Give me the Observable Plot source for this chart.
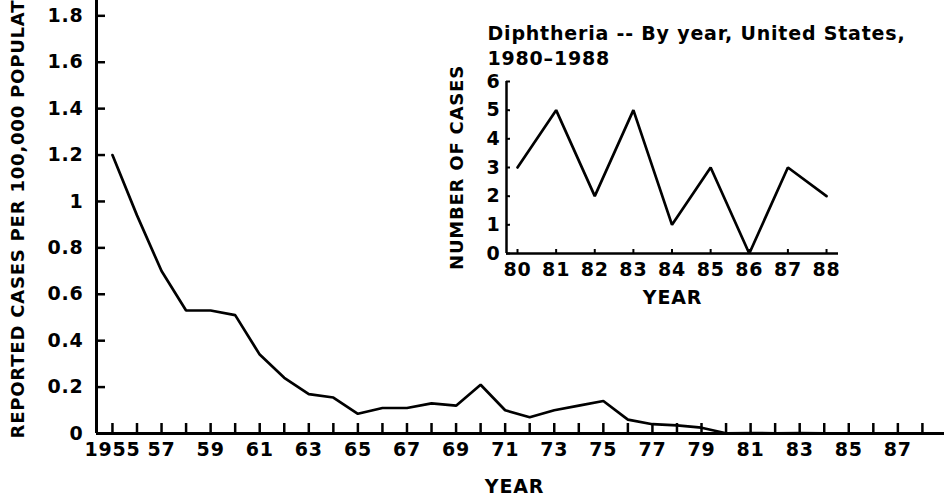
<!DOCTYPE html>
<html><head><meta charset="utf-8">
<script src="https://cdn.jsdelivr.net/npm/d3@7"></script>
<script src="https://cdn.jsdelivr.net/npm/@observablehq/plot@0.6"></script>
<style>
html,body{margin:0;padding:0;background:#fff;}
#wrap{position:relative;width:944px;height:499px;overflow:hidden;}
#inset{position:absolute;left:440px;top:0;}
</style></head><body><div id="wrap"><div id="main"></div><div id="inset"></div></div>
<script>
// Main chart data: reported diphtheria cases per 100,000 population
const years = [1955,1956,1957,1958,1959,1960,1961,1962,1963,1964,1965,1966,1967,1968,1969,1970,1971,1972,1973,1974,1975,1976,1977,1978,1979,1980,1981,1982,1983,1984,1985,1986,1987,1988];
const rates = [1.20,0.94,0.70,0.53,0.53,0.51,0.34,0.24,0.17,0.155,0.085,0.11,0.11,0.13,0.12,0.21,0.10,0.07,0.10,0.12,0.14,0.06,0.04,0.035,0.025,0.001,0.002,0.001,0.002,0.0004,0.001,0,0.001,0.001];
const xTickYears = [1955,1957,1959,1961,1963,1965,1967,1969,1971,1973,1975,1977,1979,1981,1983,1985,1987];
const xTickLabels = ["1955","57","59","61","63","65","67","69","71","73","75","77","79","81","83","85","87"];
const yTicks = [0,0.2,0.4,0.6,0.8,1,1.2,1.4,1.6,1.8];
const yTickLabels = ["0","0.2","0.4","0.6","0.8","1","1.2","1.4","1.6","1.8"];
const yTitle = "REPORTED CASES PER 100,000 POPULATION";
const xTitle = "YEAR";

// Inset data: number of cases 1980-1988
const insetYears = [1980,1981,1982,1983,1984,1985,1986,1987,1988];
const insetCases = [3,5,2,5,1,3,0,3,2];
const insetXLabels = ["80","81","82","83","84","85","86","87","88"];
const insetYTicks = [0,1,2,3,4,5,6];
const insetTitle = "Diphtheria -- By year, United States,\n1980\u20131988";
const insetYTitle = "NUMBER OF CASES";
const insetXTitle = "YEAR";

const font = {fontFamily: "'DejaVu Sans', sans-serif", fontWeight: "bold", fontSize: "19px", letterSpacing: "0.8px", background: "transparent", color: "#000"};

// ---- main chart
const W = 944, H = 499, mL = 96, mR = 0, mT = 0, mB = 66;
const innerW = W - mL - mR, innerH = H - mT - mB;
const xDomain = [1954.35, 1988.9];
const main = Plot.plot({
  width: W, height: H, marginLeft: mL, marginRight: mR, marginTop: mT, marginBottom: mB,
  style: font,
  x: {domain: xDomain, axis: null},
  y: {domain: [0, 1.866], axis: null},
  marks: [
    Plot.tickX(years, {x: d => d, insetTop: innerH - 10, stroke: "#000", strokeWidth: 2.5}),
    Plot.tickY(yTicks, {y: d => d, insetRight: innerW - 9, stroke: "#000", strokeWidth: 2.5}),
    Plot.ruleY([0], {stroke: "#000", strokeWidth: 3}),
    Plot.ruleX([xDomain[0]], {stroke: "#000", strokeWidth: 3}),
    Plot.axisX(xTickYears, {label: null, tickSize: 0, tickPadding: 9, tickFormat: d => xTickLabels[xTickYears.indexOf(d)]}),
    Plot.axisY(yTicks, {label: null, tickSize: 0, tickPadding: 13, tickFormat: d => yTickLabels[yTicks.indexOf(d)]}),
    Plot.line(years.map((y, i) => ({year: y, rate: rates[i]})), {x: "year", y: "rate", stroke: "#000", strokeWidth: 2.7, strokeLinejoin: "miter"}),
    Plot.text([xTitle], {frameAnchor: "bottom", lineAnchor: "bottom", dx: -6, dy: 59, fontSize: 19}),
    Plot.text([yTitle], {frameAnchor: "bottom-left", rotate: -90, textAnchor: "start", lineAnchor: "middle", dx: -78, dy: 5, fontSize: 18})
  ]
});
document.getElementById("main").appendChild(main);

// ---- inset chart
const iW = 480, iH = 320, iL = 66, iR = 82, iT = 81, iB = 67;
const iInnerW = iW - iL - iR, iInnerH = iH - iT - iB;
const iXDomain = [1979.715, 1988.31];
const inset = Plot.plot({
  width: iW, height: iH, marginLeft: iL, marginRight: iR, marginTop: iT, marginBottom: iB,
  style: font,
  x: {domain: iXDomain, axis: null},
  y: {domain: [0, 6], axis: null},
  marks: [
    Plot.tickX(insetYears, {x: d => d, insetTop: iInnerH - 4, stroke: "#000", strokeWidth: 2}),
    Plot.tickY(insetYTicks, {y: d => d, insetRight: iInnerW - 4, stroke: "#000", strokeWidth: 2}),
    Plot.ruleY([0], {stroke: "#000", strokeWidth: 2.5}),
    Plot.ruleX([iXDomain[0]], {stroke: "#000", strokeWidth: 2.5}),
    Plot.axisX(insetYears, {label: null, tickSize: 0, tickPadding: 9, tickFormat: d => insetXLabels[insetYears.indexOf(d)]}),
    Plot.axisY(insetYTicks, {label: null, tickSize: 0, tickPadding: 6, tickFormat: d => String(d)}),
    Plot.line(insetYears.map((y, i) => ({year: y, cases: insetCases[i]})), {x: "year", y: "cases", stroke: "#000", strokeWidth: 2.7, strokeLinejoin: "miter"}),
    Plot.text([insetXTitle], {frameAnchor: "bottom", lineAnchor: "bottom", dy: 50, fontSize: 19}),
    Plot.text([insetYTitle], {frameAnchor: "left", rotate: -90, textAnchor: "middle", lineAnchor: "middle", dx: -49, fontSize: 18}),
    Plot.text([insetTitle], {frameAnchor: "top-left", textAnchor: "start", lineAnchor: "top", dx: -19, dy: -59, lineHeight: 1.3, fontSize: 19})
  ]
});
document.getElementById("inset").appendChild(inset);
</script></body></html>
